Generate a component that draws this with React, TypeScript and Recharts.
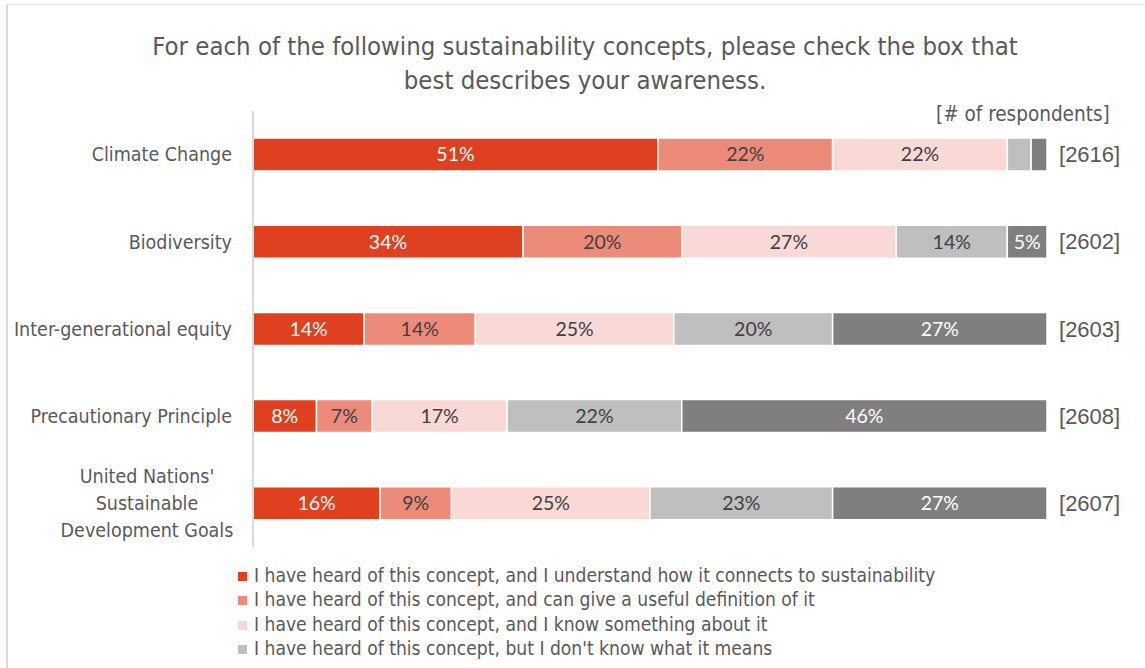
import React from "react";
import { BarChart, Bar, XAxis, YAxis, LabelList } from "recharts";

const categories = [
  "Climate Change",
  "Biodiversity",
  "Inter-generational equity",
  "Precautionary Principle",
  "United Nations'\nSustainable\nDevelopment Goals",
];
const understand = [51, 34, 14, 8, 16];
const definition = [22, 20, 14, 7, 9];
const something = [22, 27, 25, 17, 25];
const dontKnow = [3, 14, 20, 22, 23];
const neverHeard = [2, 5, 27, 46, 27];
const respondents = [2616, 2602, 2603, 2608, 2607];

const seriesKeys = ["understand", "definition", "something", "dontKnow", "neverHeard"];
const seriesNames = [
  "I have heard of this concept, and I understand how it connects to sustainability",
  "I have heard of this concept, and can give a useful definition of it",
  "I have heard of this concept, and I know something about it",
  "I have heard of this concept, but I don't know what it means",
  "I have never heard of this concept",
];
const seriesColors = ["#DF4020", "#EC8B7A", "#F8D9D5", "#BFBFBF", "#7F7F7F"];
const labelColors = ["#FFFFFF", "#404040", "#404040", "#404040", "#FFFFFF"];
// the legend is cut at the bottom edge: only the first four entries are visible
const visibleLegendItems = 4;

const data = categories.map((name, i) => ({
  name,
  understand: understand[i],
  definition: definition[i],
  something: something[i],
  dontKnow: dontKnow[i],
  neverHeard: neverHeard[i],
  respondents: respondents[i],
}));

const condensed = "'DejaVu Sans Condensed', 'Roboto', sans-serif";
const labelFont = "'Lato', 'Open Sans', sans-serif";

const CategoryTick = ({ x, y, payload }: any) => {
  const lines = String(payload.value).split("\n");
  if (lines.length === 1) {
    return (
      <text x={x - 15} y={y} dy="0.35em" textAnchor="end" fill="#595959" fontSize={19.5} fontFamily={condensed}>
        {lines[0]}
      </text>
    );
  }
  const lh = 27;
  const start = y - ((lines.length - 1) * lh) / 2;
  return (
    <text textAnchor="middle" fill="#595959" fontSize={19.5} fontFamily={condensed}>
      {lines.map((l, i) => (
        <tspan key={i} x={x - 100} y={start + i * lh} dy="0.35em">
          {l}
        </tspan>
      ))}
    </text>
  );
};

const CountLabel = ({ x, y, width, height, value }: any) => (
  <text
    x={x + width + 12}
    y={y + height / 2}
    dy="0.35em"
    fill="#595959"
    fontSize={22}
    fontFamily="'Liberation Sans', Arial, sans-serif"
  >
    [{value}]
  </text>
);

export default function App() {
  return (
    <div style={{ position: "absolute", left: 0, top: 0, width: 1145, height: 668, overflow: "hidden", background: "#fff" }}>
      <div
        style={{
          position: "absolute",
          left: 6,
          top: 4,
          right: -10,
          bottom: -10,
          borderLeft: "2px solid #D9D9D9",
          borderTop: "1px solid #E6E6E6",
        }}
      />
      <div
        style={{
          position: "absolute",
          left: 0,
          width: 1170,
          top: 29,
          textAlign: "center",
          fontFamily: condensed,
          fontSize: 25.5,
          lineHeight: "34px",
          color: "#595959",
        }}
      >
        For each of the following sustainability concepts, please check the box that
        <br />
        best describes your awareness.
      </div>
      <div
        style={{
          position: "absolute",
          left: 936,
          top: 102,
          fontFamily: condensed,
          fontSize: 20.5,
          color: "#595959",
        }}
      >
        [# of respondents]
      </div>
      <BarChart
        width={1145}
        height={668}
        data={data}
        layout="vertical"
        margin={{ top: 111, right: 98, bottom: 121, left: 13 }}
        barCategoryGap={0}
        style={{ position: "absolute", left: 0, top: 0 }}
      >
        <XAxis type="number" domain={[0, 100]} hide />
        <YAxis
          type="category"
          dataKey="name"
          width={240}
          tick={<CategoryTick />}
          tickLine={false}
          tickSize={6}
          tickMargin={0}
          axisLine={{ stroke: "#D9D9D9", strokeWidth: 2 }}
          interval={0}
        />
        {seriesKeys.map((k, i) => (
          <Bar
            key={k}
            dataKey={k}
            name={seriesNames[i]}
            stackId="a"
            fill={seriesColors[i]}
            stroke="#FFFFFF"
            strokeWidth={1.5}
            barSize={33}
            isAnimationActive={false}
          >
            <LabelList
              dataKey={k}
              position="center"
              formatter={(v: any) => (Number(v) >= 4 ? `${v}%` : "")}
              fill={labelColors[i]}
              fontSize={19.5}
              fontFamily={labelFont}
            />
            {i === seriesKeys.length - 1 && <LabelList dataKey="respondents" content={<CountLabel />} />}
          </Bar>
        ))}
      </BarChart>
      <div
        style={{
          position: "absolute",
          left: 238,
          top: 564,
          fontFamily: condensed,
          fontSize: 19.1,
          color: "#595959",
          lineHeight: "24.4px",
        }}
      >
        {seriesNames.slice(0, visibleLegendItems).map((n, i) => (
          <div key={n} style={{ display: "flex", alignItems: "center", whiteSpace: "nowrap" }}>
            <span
              style={{ display: "inline-block", width: 9, height: 9, background: seriesColors[i], marginRight: 7 }}
            />
            {n}
          </div>
        ))}
      </div>
    </div>
  );
}
